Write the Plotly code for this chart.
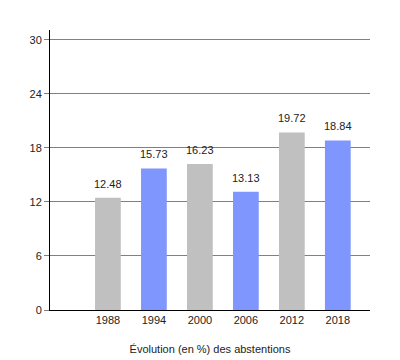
import plotly.graph_objects as go

years = ["1988", "1994", "2000", "2006", "2012", "2018"]
values = [12.48, 15.73, 16.23, 13.13, 19.72, 18.84]
colors = ["#c0c0c0", "#7f96ff", "#c0c0c0", "#7f96ff", "#c0c0c0", "#7f96ff"]
y_ticks = [0, 6, 12, 18, 24, 30]
x_title = "Évolution (en %) des abstentions"

fig = go.Figure()
fig.add_trace(go.Bar(
    x=years, y=values, marker=dict(color=colors, line=dict(width=0)),
    width=0.56, hoverinfo="x+y",
))
for i, v in enumerate(values):
    fig.add_annotation(x=i, y=v, xref="x", yref="y", text=f"{v:.2f}", showarrow=False,
                       yanchor="bottom", yshift=6,
                       font=dict(family="Liberation Sans, Arial", size=11, color="#222"))

fig.update_layout(
    width=400, height=360,
    margin=dict(l=42, r=38, t=22, b=58),
    paper_bgcolor="white", plot_bgcolor="white",
    showlegend=False,
    font=dict(family="Liberation Sans, Arial", size=11, color="#222"),
    xaxis=dict(
        type="category", range=[-1.26, 5.7],
        showline=True, linecolor="black", linewidth=1,
        ticks="", showgrid=False,
        title=dict(text=x_title, font=dict(size=11), standoff=20),
        tickfont=dict(size=11),
    ),
    yaxis=dict(
        range=[0, 31.1], tickvals=y_ticks,
        showline=True, linecolor="black", linewidth=1,
        showgrid=True, gridcolor="#808080", gridwidth=1,
        ticks="outside", ticklen=5, tickcolor="#808080",
        zeroline=False,
        tickfont=dict(size=11),
    ),
)
fig.write_html("out.html")
